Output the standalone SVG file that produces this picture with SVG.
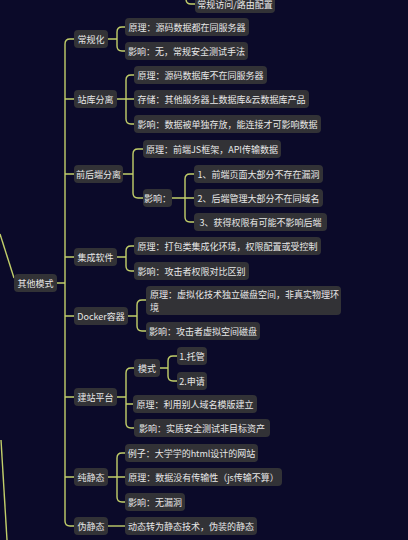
<svg xmlns="http://www.w3.org/2000/svg" width="408" height="540" viewBox="0 0 408 540">
<style>
.n rect{fill:#323236}
.n text{fill:#e8e8e8;font-family:"Noto Sans CJK SC","Noto Sans",sans-serif;font-size:9px;text-anchor:middle;dominant-baseline:central}
.c path{fill:none;stroke:#c2cf6a;stroke-width:1.4}
</style>
<rect width="408" height="540" fill="#0b0a29"/>
<g class="c" id="connectors">
<path d="M0,234L14,278"/>
<path d="M1,440L7,540"/>
<path d="M186,-20V-1Q186,4 191,4H195"/>
<path d="M74,39H70Q65,39 65,44V521Q65,526 70,526H74"/>
<path d="M65,99H74M65,174H74M65,257H74M65,316H74M65,397H74M65,477H74M57,283H65"/>
<path d="M108,39H117M125,27H122Q117,27 117,32V46Q117,51 122,51H125"/>
<path d="M117,99H134M134,75H131Q126,75 126,80V119Q126,124 131,124H134"/>
<path d="M123,174H133M143,149H138Q133,149 133,154V193Q133,198 138,198H143"/>
<path d="M172,198H194M194,174H190Q185,174 185,179V217Q185,222 190,222H194"/>
<path d="M117,257H126M134,246H131Q126,246 126,251V266Q126,271 131,271H134"/>
<path d="M128,316H137M146,300H142Q137,300 137,305V326Q137,331 142,331H146"/>
<path d="M117,397H126M134,368H131Q126,368 126,373V423Q126,428 131,428H134M126,404H133"/>
<path d="M160,368H168M177,356H173Q168,356 168,361V376Q168,381 173,381H177"/>
<path d="M108,477H125M125,453H122Q117,453 117,458V497Q117,502 122,502H125"/>
<path d="M108,526H125"/>
</g>
<g class="n" id="n-top"><rect x="195" y="-5" width="80" height="18" rx="4"/><text x="235" y="4">常规访问/路由配置</text></g>
<g class="n" id="n-other"><rect x="14" y="274" width="43" height="18" rx="4"/><text x="35.5" y="283">其他模式</text></g>
<g class="n" id="n-cgh"><rect x="74" y="30" width="34" height="18" rx="4"/><text x="91" y="39">常规化</text></g>
<g class="n" id="n-cgh1"><rect x="125" y="18" width="124" height="18" rx="4"/><text x="187" y="27">原理：源码数据都在同服务器</text></g>
<g class="n" id="n-cgh2"><rect x="125" y="42" width="123" height="18" rx="4"/><text x="186.5" y="51">影响：无，常规安全测试手法</text></g>
<g class="n" id="n-zk"><rect x="74" y="90" width="43" height="18" rx="4"/><text x="95.5" y="99">站库分离</text></g>
<g class="n" id="n-zk1"><rect x="134" y="66" width="133" height="18" rx="4"/><text x="200.5" y="75">原理：源码数据库不在同服务器</text></g>
<g class="n" id="n-zk2"><rect x="134" y="90" width="175" height="18" rx="4"/><text x="221.5" y="99">存储：其他服务器上数据库&amp;云数据库产品</text></g>
<g class="n" id="n-zk3"><rect x="134" y="115" width="187" height="18" rx="4"/><text x="227.5" y="124">影响：数据被单独存放，能连接才可影响数据</text></g>
<g class="n" id="n-qh"><rect x="74" y="165" width="49" height="18" rx="4"/><text x="98.5" y="174">前后端分离</text></g>
<g class="n" id="n-qh1"><rect x="143" y="140" width="138" height="18" rx="4"/><text x="212" y="149">原理：前端JS框架，API传输数据</text></g>
<g class="n" id="n-qh2"><rect x="143" y="189" width="29" height="18" rx="4"/><text x="157.5" y="198">影响：</text></g>
<g class="n" id="n-qh21"><rect x="194" y="165" width="129" height="18" rx="4"/><text x="258.5" y="174">1、前端页面大部分不存在漏洞</text></g>
<g class="n" id="n-qh22"><rect x="194" y="189" width="129" height="18" rx="4"/><text x="258.5" y="198">2、后端管理大部分不在同域名</text></g>
<g class="n" id="n-qh23"><rect x="194" y="213" width="133" height="18" rx="4"/><text x="260.5" y="222">3、获得权限有可能不影响后端</text></g>
<g class="n" id="n-jc"><rect x="74" y="248" width="43" height="18" rx="4"/><text x="95.5" y="257">集成软件</text></g>
<g class="n" id="n-jc1"><rect x="134" y="237" width="187" height="18" rx="4"/><text x="227.5" y="246">原理：打包类集成化环境，权限配置或受控制</text></g>
<g class="n" id="n-jc2"><rect x="134" y="262" width="115" height="18" rx="4"/><text x="191.5" y="271">影响：攻击者权限对比区别</text></g>
<g class="n" id="n-dk"><rect x="74" y="307" width="54" height="18" rx="4"/><text x="101" y="316">Docker容器</text></g>
<g class="n" id="n-dk1"><rect x="146" y="286" width="195" height="29" rx="4"/><text x="150" y="294" style="text-anchor:start">原理：虚拟化技术独立磁盘空间，非真实物理环</text><text x="150" y="307" style="text-anchor:start">境</text></g>
<g class="n" id="n-dk2"><rect x="146" y="322" width="114" height="18" rx="4"/><text x="203" y="331">影响：攻击者虚拟空间磁盘</text></g>
<g class="n" id="n-jz"><rect x="74" y="388" width="43" height="18" rx="4"/><text x="95.5" y="397">建站平台</text></g>
<g class="n" id="n-jz1"><rect x="134" y="359" width="26" height="18" rx="4"/><text x="147" y="368">模式</text></g>
<g class="n" id="n-jz11"><rect x="177" y="347" width="30" height="18" rx="4"/><text x="192" y="356">1.托管</text></g>
<g class="n" id="n-jz12"><rect x="177" y="372" width="30" height="18" rx="4"/><text x="192" y="381">2.申请</text></g>
<g class="n" id="n-jz2"><rect x="133" y="395" width="124" height="18" rx="4"/><text x="195" y="404">原理：利用别人域名模版建立</text></g>
<g class="n" id="n-jz3"><rect x="134" y="419" width="136" height="18" rx="4"/><text x="202" y="428">影响：实质安全测试非目标资产</text></g>
<g class="n" id="n-cj"><rect x="74" y="468" width="34" height="18" rx="4"/><text x="91" y="477">纯静态</text></g>
<g class="n" id="n-cj1"><rect x="125" y="444" width="133" height="18" rx="4"/><text x="191.5" y="453">例子：大学学的html设计的网站</text></g>
<g class="n" id="n-cj2"><rect x="125" y="468" width="157" height="18" rx="4"/><text x="203.5" y="477">原理：数据没有传输性（js传输不算）</text></g>
<g class="n" id="n-cj3"><rect x="125" y="493" width="60" height="18" rx="4"/><text x="155" y="502">影响：无漏洞</text></g>
<g class="n" id="n-wj"><rect x="74" y="517" width="34" height="18" rx="4"/><text x="91" y="526">伪静态</text></g>
<g class="n" id="n-wj1"><rect x="125" y="517" width="132" height="18" rx="4"/><text x="191" y="526">动态转为静态技术，伪装的静态</text></g>
</svg>
